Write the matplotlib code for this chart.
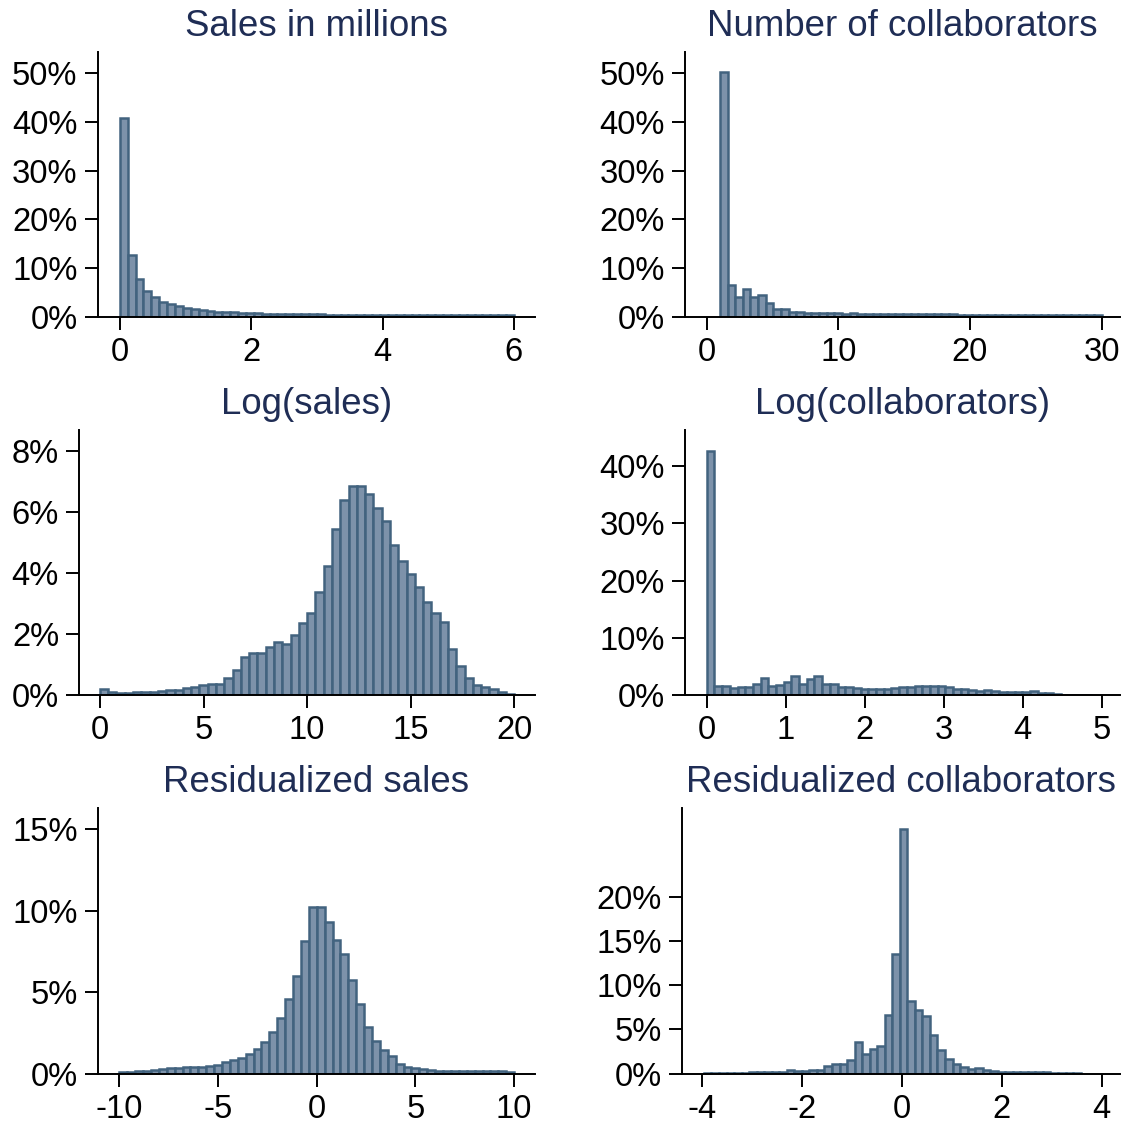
import numpy as np
import matplotlib
matplotlib.use("Agg")
import matplotlib.pyplot as plt

plt.rcParams['font.family'] = ['Liberation Sans', 'DejaVu Sans']

# histogram heights (percent), 50 equal-width bins over each range
titles = ["Sales in millions", "Number of collaborators", "Log(sales)",
          "Log(collaborators)", "Residualized sales", "Residualized collaborators"]

sales_range = (0, 6)
sales_pct = [40.8, 12.8, 7.7, 5.4, 4.0, 3.1, 2.7, 2.25, 1.9, 1.64,
             1.43, 1.3, 1.1, 1.02, 0.96, 0.89, 0.82, 0.75, 0.7, 0.66,
             0.62, 0.6, 0.58, 0.56, 0.54, 0.52, 0.5, 0.49, 0.48, 0.46,
             0.45, 0.44, 0.43, 0.42, 0.41, 0.4, 0.39, 0.38, 0.38, 0.37,
             0.36, 0.36, 0.35, 0.35, 0.34, 0.34, 0.33, 0.35, 0.34, 0.33]

collab_range = (1, 30)
collab_pct = [50.1, 6.6, 4.0, 5.8, 4.2, 4.5, 2.8, 1.6, 1.6, 1.1,
              1.1, 0.85, 0.8, 0.8, 0.75, 0.75, 0.7, 0.8, 0.7, 0.7,
              0.68, 0.66, 0.65, 0.64, 0.62, 0.6, 0.6, 0.58, 0.56, 0.55,
              0.52, 0.5, 0.49, 0.48, 0.47, 0.46, 0.45, 0.44, 0.43, 0.42,
              0.41, 0.4, 0.4, 0.39, 0.39, 0.38, 0.38, 0.37, 0.37, 0.36]

logsales_range = (0, 20)
logsales_pct = [0.2, 0.1, 0.07, 0.07, 0.09, 0.1, 0.11, 0.13, 0.17, 0.17,
                0.22, 0.27, 0.32, 0.36, 0.36, 0.55, 0.81, 1.23, 1.39, 1.39,
                1.56, 1.73, 1.67, 1.98, 2.36, 2.70, 3.37, 4.24, 5.43, 6.38,
                6.85, 6.85, 6.59, 6.12, 5.69, 4.91, 4.40, 3.96, 3.53, 3.05,
                2.70, 2.38, 1.51, 0.94, 0.55, 0.32, 0.25, 0.19, 0.10, 0.04]

logcollab_range = (0, 4.87)
logcollab_pct = [42.7, 1.5, 1.5, 1.3, 1.35, 1.35, 1.9, 3.0, 1.6, 1.75,
                 2.2, 3.3, 2.0, 2.85, 3.4, 2.0, 2.0, 1.4, 1.35, 1.2,
                 1.1, 1.0, 1.1, 1.1, 1.2, 1.35, 1.45, 1.6, 1.6, 1.6,
                 1.5, 1.35, 1.05, 1.0, 0.9, 0.7, 0.9, 0.7, 0.6, 0.5,
                 0.5, 0.5, 0.65, 0.3, 0.3, 0.1, 0.05, 0.05, 0.03, 0.03]

ressales_range = (-10, 10)
ressales_pct = [0.12, 0.12, 0.14, 0.18, 0.22, 0.27, 0.37, 0.37, 0.43, 0.41,
                0.43, 0.49, 0.53, 0.70, 0.82, 0.94, 1.21, 1.51, 1.94, 2.56,
                3.39, 4.56, 6.01, 8.14, 10.2, 10.22, 9.28, 8.22, 7.32, 5.77,
                4.27, 2.88, 2.0, 1.47, 1.08, 0.61, 0.43, 0.35, 0.27, 0.2,
                0.18, 0.16, 0.15, 0.15, 0.15, 0.14, 0.14, 0.15, 0.14, 0.13]

rescollab_range = (-3.97, 3.58)
rescollab_pct = [0.08, 0.08, 0.08, 0.08, 0.08, 0.1, 0.19, 0.19, 0.15, 0.19,
                 0.23, 0.38, 0.3, 0.3, 0.38, 0.41, 0.86, 1.09, 1.09, 1.54,
                 3.61, 2.22, 2.82, 3.16, 6.62, 13.57, 27.63, 8.2, 7.22, 6.5,
                 4.36, 2.67, 1.69, 1.13, 0.71, 0.56, 0.6, 0.45, 0.26, 0.19,
                 0.19, 0.19, 0.15, 0.19, 0.19, 0.15, 0.11, 0.11, 0.11, 0.11]

# tick values / labels
xticks = [[0, 2, 4, 6], [0, 10, 20, 30], [0, 5, 10, 15, 20],
          [0, 1, 2, 3, 4, 5], [-10, -5, 0, 5, 10], [-4, -2, 0, 2, 4]]
yticks = [[0, 10, 20, 30, 40, 50], [0, 10, 20, 30, 40, 50], [0, 2, 4, 6, 8],
          [0, 10, 20, 30, 40], [0, 5, 10, 15], [0, 5, 10, 15, 20]]

ranges = [sales_range, collab_range, logsales_range,
          logcollab_range, ressales_range, rescollab_range]
heights = [sales_pct, collab_pct, logsales_pct,
           logcollab_pct, ressales_pct, rescollab_pct]

# layout in pixels: left, right, top, bottom
W, H = 1127, 1125
boxes = [(97.5, 535, 52, 317), (685, 1120, 52, 317),
         (79, 535, 430, 695), (685, 1120, 430, 695),
         (97.7, 535, 808, 1073.7), (682, 1120, 808, 1073.7)]
xlims = [(-0.34, 6.32), (-1.65, 31.4), (-1.01, 21.0),
         (-0.275, 5.23), (-11.1, 11.06), (-4.41, 4.37)]
ylims = [54.3, 54.3, 8.69, 46.3, 16.3, 30.0]

fill = '#7d92aa'
edge = '#42637f'
title_color = '#1f2d55'

fig = plt.figure(figsize=(W / 100, H / 100), dpi=100)

for i in range(6):
    l, r, t, b = boxes[i]
    ax = fig.add_axes([l / W, 1 - b / H, (r - l) / W, (b - t) / H])
    lo, hi = ranges[i]
    vals = heights[i]
    edges = np.linspace(lo, hi, len(vals) + 1)
    ax.bar(edges[:-1], vals, width=np.diff(edges), align='edge',
           color=fill, edgecolor=edge, linewidth=1.8)
    ax.set_xlim(*xlims[i])
    ax.set_ylim(0, ylims[i])
    ax.set_xticks(xticks[i])
    ax.set_xticklabels([str(v) for v in xticks[i]])
    ax.set_yticks(yticks[i])
    ax.set_yticklabels([f"{v}%" for v in yticks[i]])
    for s in ['top', 'right']:
        ax.spines[s].set_visible(False)
    for s in ['left', 'bottom']:
        ax.spines[s].set_linewidth(1.4)
        ax.spines[s].set_zorder(5)
    ax.tick_params(axis='both', length=9.4, width=1.4, labelsize=23.6,
                   pad=5, direction='out')
    ax.set_title(titles[i], fontsize=26.4, color=title_color, pad=11.5)

fig.savefig('out.png', dpi=100)
